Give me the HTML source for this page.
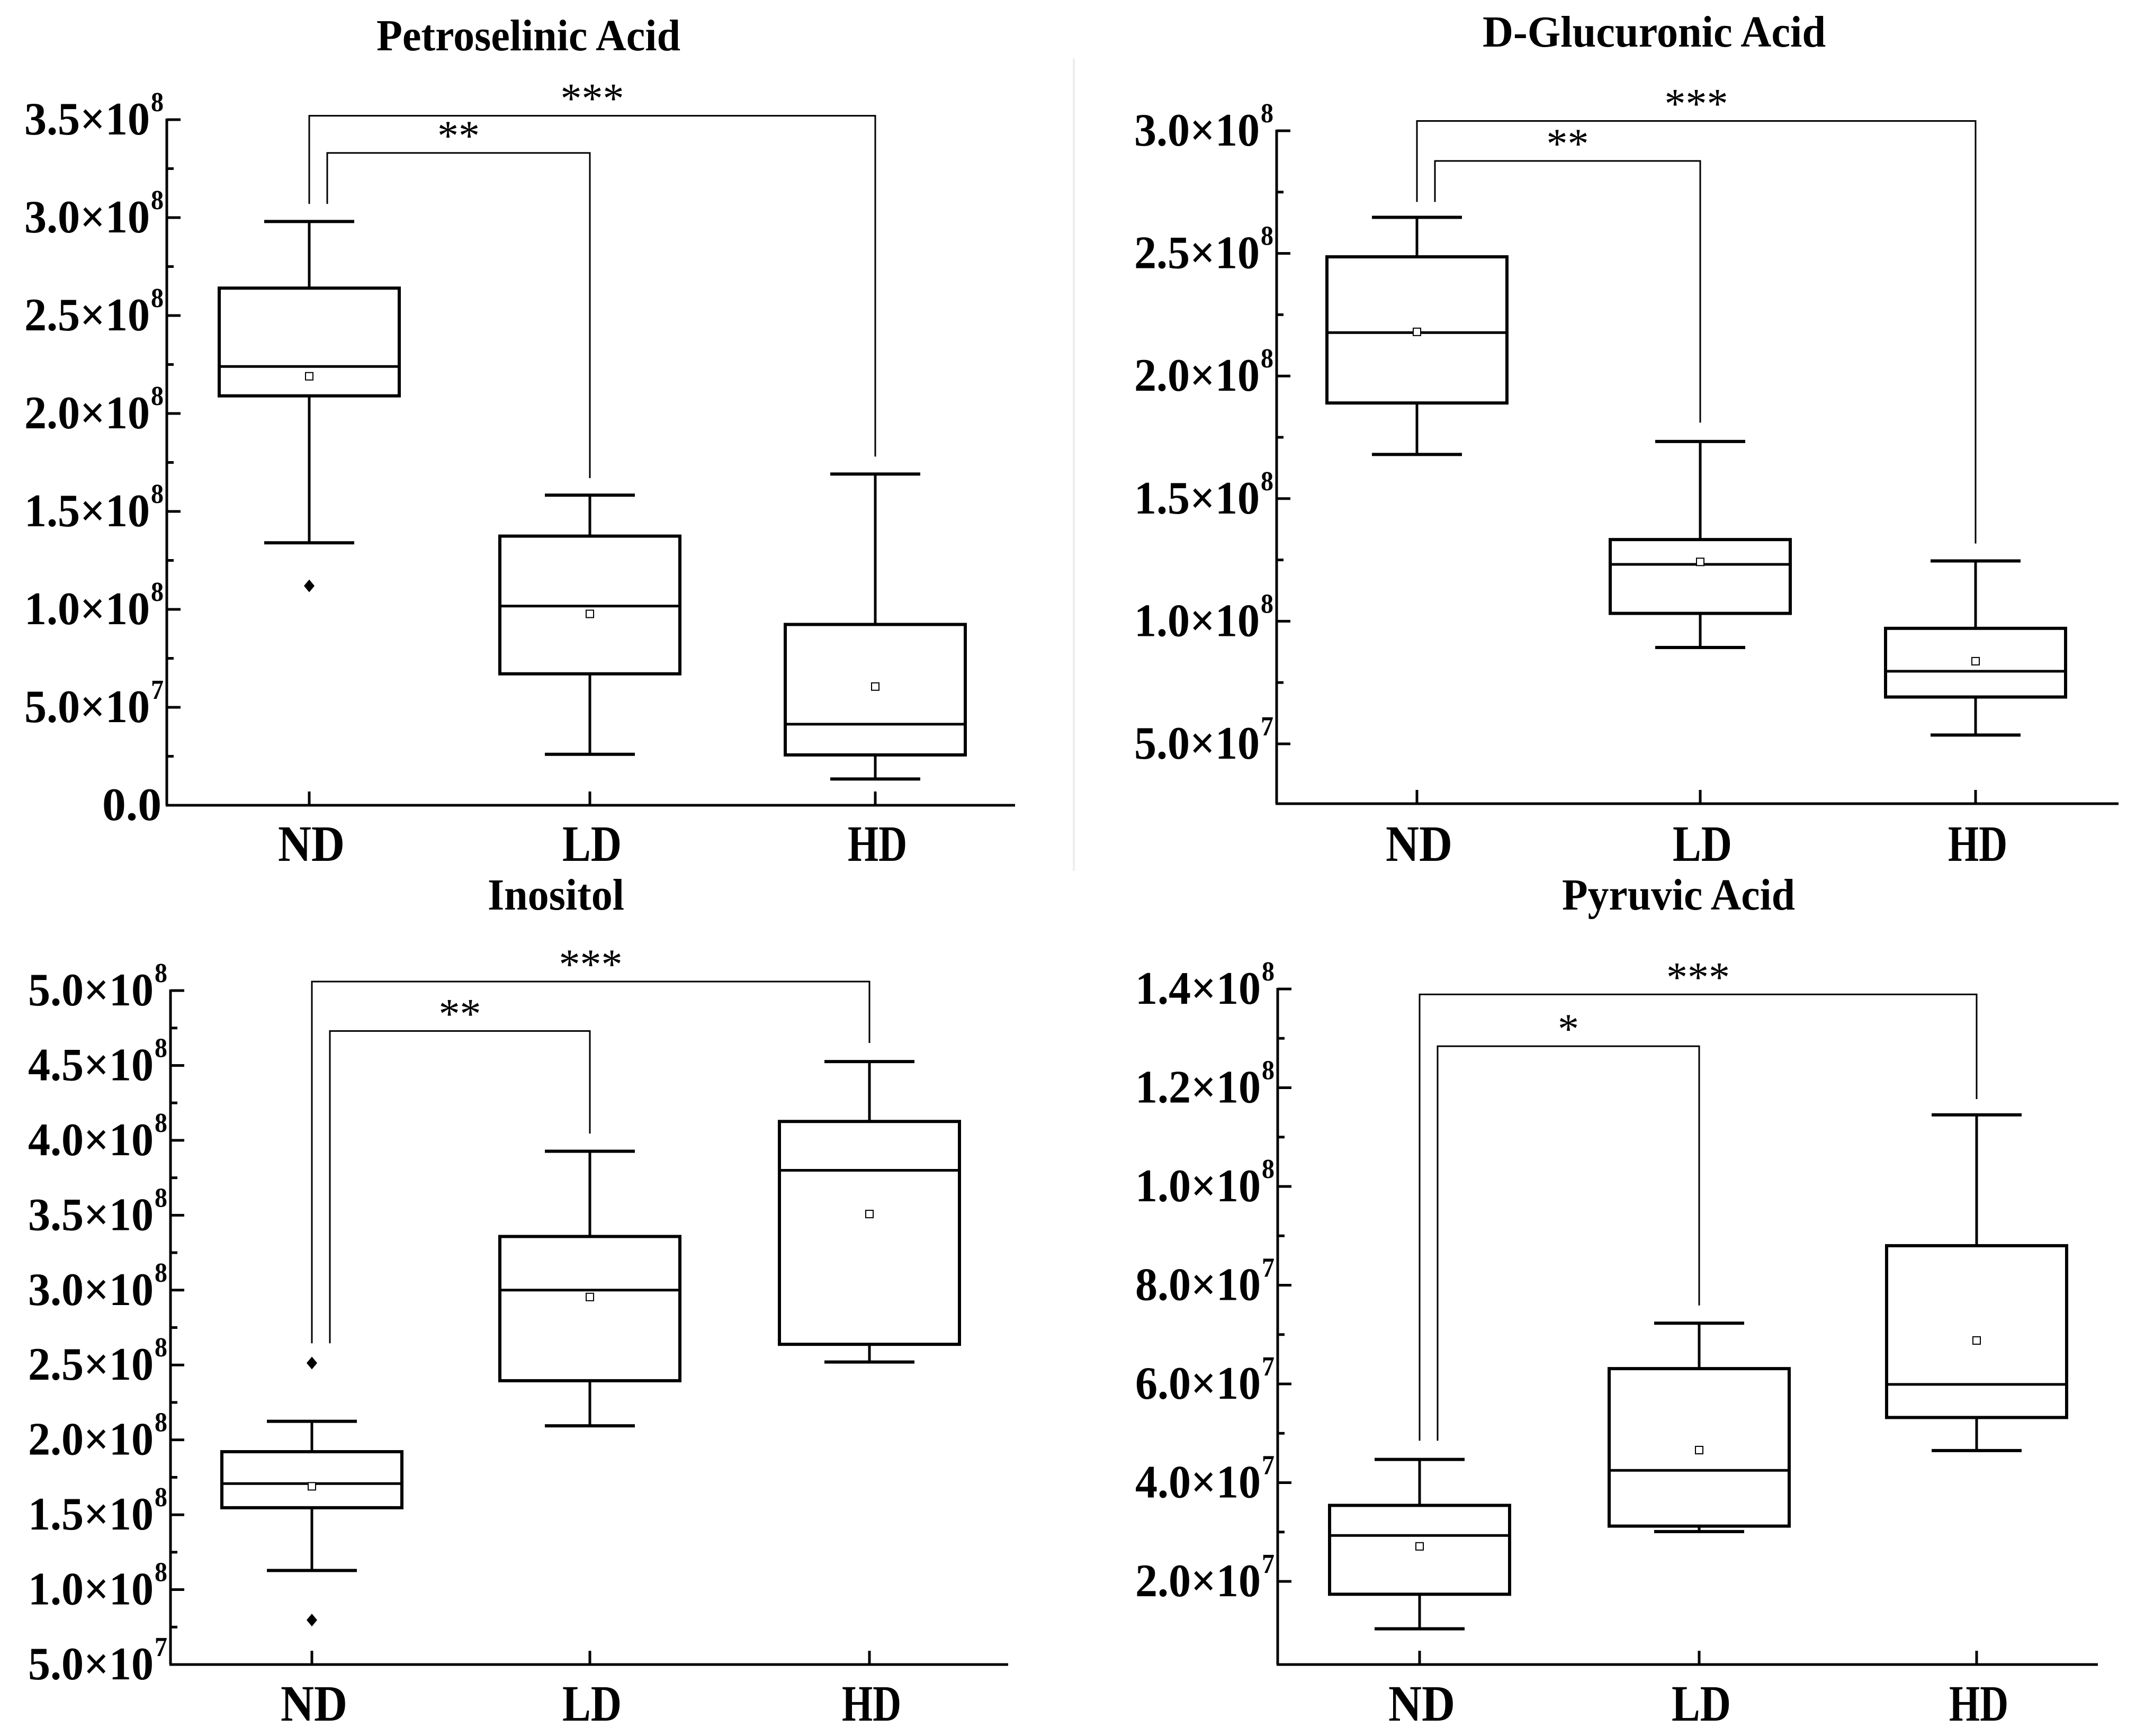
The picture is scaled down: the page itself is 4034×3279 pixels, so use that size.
<!DOCTYPE html>
<html><head><meta charset="utf-8"><style>
html,body{margin:0;padding:0;background:#fff;}
svg{display:block;font-family:"Liberation Serif",serif;}
</style></head><body>
<svg id="fig" width="4034" height="3279" viewBox="0 0 4034 3279" xmlns="http://www.w3.org/2000/svg">
<rect width="4034" height="3279" fill="#fff"/>
<line x1="2028" y1="110" x2="2028" y2="1645" stroke="#eeeeee" stroke-width="4"/>
</svg>
<script>
// ---- data ----
const categories = ["ND","LD","HD"];
// [whiskerLow, Q1, median, Q3, whiskerHigh, mean]
const petroStats = [[1.34e8,2.09e8,2.24e8,2.64e8,2.98e8,2.19e8],[0.26e8,0.671e8,1.017e8,1.374e8,1.583e8,0.977e8],[0.134e8,0.257e8,0.414e8,0.923e8,1.691e8,0.606e8]];
const petroOutliers = [[1.12e8],[],[]];
const petroTicks = [0,0.5e8,1.0e8,1.5e8,2.0e8,2.5e8,3.0e8,3.5e8];
const petroTickLabels = [["0.0",""],["5.0×10","7"],["1.0×10","8"],["1.5×10","8"],["2.0×10","8"],["2.5×10","8"],["3.0×10","8"],["3.5×10","8"]];
const petroSig = [{label:"**",to:1,y:3.33e8,endL:3.07e8,endR:1.67e8},{label:"***",to:2,y:3.52e8,endL:3.07e8,endR:1.78e8}];

const glucStats = [[1.68e8,1.89e8,2.177e8,2.486e8,2.647e8,2.18e8],[0.893e8,1.032e8,1.232e8,1.333e8,1.733e8,1.242e8],[0.536e8,0.691e8,0.796e8,0.971e8,1.246e8,0.837e8]];
const glucOutliers = [[],[],[]];
const glucTicks = [0.5e8,1.0e8,1.5e8,2.0e8,2.5e8,3.0e8];
const glucTickLabels = [["5.0×10","7"],["1.0×10","8"],["1.5×10","8"],["2.0×10","8"],["2.5×10","8"],["3.0×10","8"]];
const glucSig = [{label:"**",to:1,y:2.877e8,endL:2.71e8,endR:1.81e8},{label:"***",to:2,y:3.04e8,endL:2.71e8,endR:1.317e8}];

const inoStats = [[1.128e8,1.547e8,1.708e8,1.921e8,2.124e8,1.69e8],[2.094e8,2.395e8,3.0e8,3.358e8,3.927e8,2.954e8],[2.52e8,2.638e8,3.80e8,4.126e8,4.526e8,3.508e8]];
const inoOutliers = [[2.513e8,0.797e8],[],[]];
const inoTicks = [0.5e8,1.0e8,1.5e8,2.0e8,2.5e8,3.0e8,3.5e8,4.0e8,4.5e8,5.0e8];
const inoTickLabels = [["5.0×10","7"],["1.0×10","8"],["1.5×10","8"],["2.0×10","8"],["2.5×10","8"],["3.0×10","8"],["3.5×10","8"],["4.0×10","8"],["4.5×10","8"],["5.0×10","8"]];
const inoSig = [{label:"**",to:1,y:4.73e8,endL:2.645e8,endR:4.045e8},{label:"***",to:2,y:5.06e8,endL:2.645e8,endR:4.65e8}];

const pyrStats = [[1.04e7,1.74e7,2.93e7,3.54e7,4.47e7,2.71e7],[3.01e7,3.12e7,4.25e7,6.31e7,7.23e7,4.66e7],[4.65e7,5.32e7,5.99e7,8.80e7,11.45e7,6.88e7]];
const pyrOutliers = [[],[],[]];
const pyrTicks = [2e7,4e7,6e7,8e7,10e7,12e7,14e7];
const pyrTickLabels = [["2.0×10","7"],["4.0×10","7"],["6.0×10","7"],["8.0×10","7"],["1.0×10","8"],["1.2×10","8"],["1.4×10","8"]];
const pyrSig = [{label:"*",to:1,y:12.84e7,endL:4.85e7,endR:7.59e7},{label:"***",to:2,y:13.89e7,endL:4.85e7,endR:11.77e7}];

// ---- drawing ----
const NS="http://www.w3.org/2000/svg";
const svg=document.getElementById("fig");
function mk(tag,attrs,parent){const e=document.createElementNS(NS,tag);for(const k in attrs)e.setAttribute(k,attrs[k]);(parent||svg).appendChild(e);return e;}

function panel(p){
  const g=mk("g",{});
  
  
  const y=v=>p.y0px-(v-p.v0)/(p.v1-p.v0)*(p.y0px-p.y1px);
  const x=i=>p.cats[i];
  const t=mk("text",{x:p.titleX,y:p.titleY,"text-anchor":"middle","font-size":84,"font-weight":"bold",textLength:p.titleW,lengthAdjust:"spacingAndGlyphs"},g);
  t.textContent=p.title;
  
  
  const topY=y(p.ticks[p.ticks.length-1]);
  const ya=mk("line",{x1:p.axisX,y1:topY-2,x2:p.axisX,y2:p.bottomPx,stroke:"#000","stroke-width":5},g);
  
  
  const xa=mk("line",{x1:p.axisX-2,y1:p.bottomPx,x2:p.axisEnd,y2:p.bottomPx,stroke:"#000","stroke-width":5},g);
  
  
  p.ticks.forEach((v,i)=>{
    const ty=y(v);
    const tk=mk("line",{x1:p.axisX,y1:ty,x2:p.axisX+26,y2:ty,stroke:"#000","stroke-width":5},g);
    
    
    if(i<p.ticks.length-1){
      const mv=(v+p.ticks[i+1])/2, my=y(mv);
      const mt=mk("line",{x1:p.axisX,y1:my,x2:p.axisX+13,y2:my,stroke:"#000","stroke-width":5},g);
      
      
    }
    if(i===0 && p.v0<v){
      const mv=v-(p.ticks[1]-v)/2;
      if(mv>p.v0){const my=y(mv);const mt=mk("line",{x1:p.axisX,y1:my,x2:p.axisX+13,y2:my,stroke:"#000","stroke-width":5},g);
      
      }
    }
    const lab=p.labels[i];
    const lt=mk("text",{"font-weight":"bold"},g);
    
    
    if(lab[1]===""){
      lt.setAttribute("x",p.axisX-10);lt.setAttribute("y",ty+28);lt.setAttribute("text-anchor","end");
      lt.setAttribute("font-size",88);lt.setAttribute("textLength",112);lt.setAttribute("lengthAdjust","spacingAndGlyphs");
      lt.textContent=lab[0];
    } else {
      const mainW=237, supW=24;
      const sx=p.axisX-8-supW-mainW;
      const m=mk("tspan",{x:sx,y:ty+28,"font-size":88,textLength:mainW,lengthAdjust:"spacingAndGlyphs"},lt);
      m.textContent=lab[0];
      const s=mk("tspan",{x:sx+mainW+2,y:ty-16,"font-size":52,textLength:supW,lengthAdjust:"spacingAndGlyphs"},lt);
      s.textContent=lab[1];
    }
  });
  categories.forEach((c,i)=>{
    const xt=mk("line",{x1:x(i),y1:p.bottomPx,x2:x(i),y2:p.bottomPx-26,stroke:"#000","stroke-width":5},g);
    
    
    const xl=mk("text",{x:x(i)+4,y:p.xLabelY,"text-anchor":"middle","font-size":96,"font-weight":"bold",textLength:c==="ND"?126:112,lengthAdjust:"spacingAndGlyphs"},g);
    xl.textContent=c;
    
    
  });
  p.stats.forEach((s,i)=>{
    const bg=mk("g",{},g);
    
    
    const cx=x(i), hw=170, cw=85;
    const [lo,q1,med,q3,hi,mean]=s;
    mk("line",{x1:cx,y1:y(hi),x2:cx,y2:y(q3),stroke:"#000","stroke-width":5},bg);
    mk("line",{x1:cx,y1:y(q1),x2:cx,y2:y(lo),stroke:"#000","stroke-width":5},bg);
    mk("line",{x1:cx-cw,y1:y(hi),x2:cx+cw,y2:y(hi),stroke:"#000","stroke-width":6},bg);
    mk("line",{x1:cx-cw,y1:y(lo),x2:cx+cw,y2:y(lo),stroke:"#000","stroke-width":6},bg);
    mk("rect",{x:cx-hw,y:y(q3),width:2*hw,height:y(q1)-y(q3),fill:"none",stroke:"#000","stroke-width":6},bg);
    mk("line",{x1:cx-hw,y1:y(med),x2:cx+hw,y2:y(med),stroke:"#000","stroke-width":5},bg);
    const mr=mk("rect",{x:cx-7,y:y(mean)-7,width:14,height:14,fill:"#fff",stroke:"#000","stroke-width":2},bg);
    
    
    p.outliers[i].forEach(v=>{
      const oy=y(v);
      const o=mk("polygon",{points:`${cx},${oy-12} ${cx+10},${oy} ${cx},${oy+12} ${cx-10},${oy}`,fill:"#000"},bg);
      
      
    });
  });
  p.sig.forEach((b,k)=>{
    const sg=mk("g",{},g);
    
    
    const xl=x(0)+(b.to===1?34:0), xr=x(b.to);
    mk("polyline",{points:`${xl},${y(b.endL)} ${xl},${y(b.y)} ${xr},${y(b.y)} ${xr},${y(b.endR)}`,fill:"none",stroke:"#000","stroke-width":3},sg);
    const st=mk("text",{x:(xl+xr)/2,y:y(b.y)-6,"text-anchor":"middle","font-size":80},sg);
    st.textContent=b.label;
  });
}

panel({name:"panel-petroselinic-acid",title:"Petroselinic Acid",titleX:998,titleY:95,titleW:574,
  axisX:315,axisEnd:1917,v0:0,v1:3.5e8,y0px:1521,y1px:226,bottomPx:1521,cats:[584,1114,1653],xLabelY:1626,
  stats:petroStats,outliers:petroOutliers,ticks:petroTicks,labels:petroTickLabels,sig:petroSig});
panel({name:"panel-d-glucuronic-acid",title:"D-Glucuronic Acid",titleX:3124,titleY:88,titleW:648,
  axisX:2411,axisEnd:4001,v0:0.5e8,v1:3.0e8,y0px:1405,y1px:247,bottomPx:1518,cats:[2676,3211,3731],xLabelY:1626,
  stats:glucStats,outliers:glucOutliers,ticks:glucTicks,labels:glucTickLabels,sig:glucSig});
panel({name:"panel-inositol",title:"Inositol",titleX:1050,titleY:1718,titleW:258,
  axisX:322,axisEnd:1904,v0:0.5e8,v1:5.0e8,y0px:3144,y1px:1871,bottomPx:3144,cats:[589,1114,1642],xLabelY:3250,
  stats:inoStats,outliers:inoOutliers,ticks:inoTicks,labels:inoTickLabels,sig:inoSig});
panel({name:"panel-pyruvic-acid",title:"Pyruvic Acid",titleX:3170,titleY:1718,titleW:440,
  axisX:2413,axisEnd:3962,v0:2e7,v1:14e7,y0px:2987,y1px:1868,bottomPx:3144,cats:[2681,3209,3733],xLabelY:3250,
  stats:pyrStats,outliers:pyrOutliers,ticks:pyrTicks,labels:pyrTickLabels,sig:pyrSig});
</script>
</body></html>
